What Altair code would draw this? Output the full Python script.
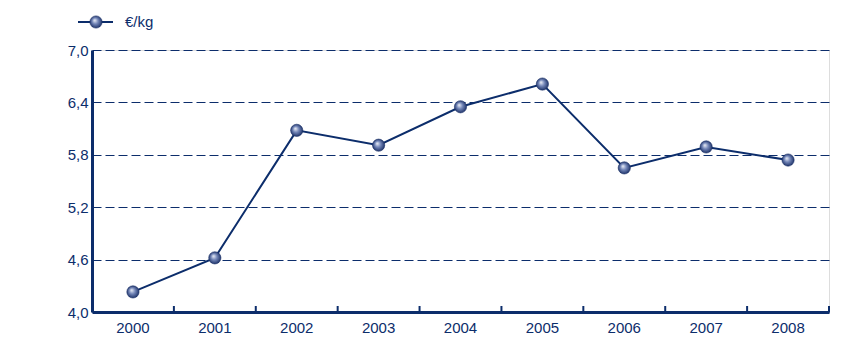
import altair as alt
import pandas as pd

years = ["2000", "2001", "2002", "2003", "2004", "2005", "2006", "2007", "2008"]
values = [4.23, 4.62, 6.08, 5.91, 6.35, 6.61, 5.65, 5.89, 5.74]
y_ticks = [4.0, 4.6, 5.2, 5.8, 6.4, 7.0]
series_label = ["€/kg"]

NAVY = "#0c2d6b"
FONT = "Liberation Sans"

df = pd.DataFrame({"year": years, "value": values})
leg = pd.DataFrame({"label": series_label})

sphere = alt.RadialGradient(
    gradient="radial",
    x1=0.38, y1=0.35, r1=0.0,
    x2=0.5, y2=0.5, r2=0.55,
    stops=[
        alt.GradientStop(offset=0.0, color="#f2f4fa"),
        alt.GradientStop(offset=0.45, color="#7386b8"),
        alt.GradientStop(offset=1.0, color="#14295f"),
    ],
)

xscale = alt.Scale(type="band", paddingInner=0, paddingOuter=0)
yscale = alt.Scale(domain=[4.0, 7.0], nice=False, zero=False)

x_enc = alt.X(
    "year:O", scale=xscale, sort=years,
    axis=alt.Axis(
        title=None, labelAngle=0, ticks=False, grid=False,
        domainColor=NAVY, domainWidth=3, labelColor=NAVY,
        labelFont=FONT, labelFontSize=15, labelPadding=8,
    ),
)
y_enc = alt.Y(
    "value:Q", scale=yscale,
    axis=alt.Axis(
        title=None, values=y_ticks, ticks=False,
        labelExpr="replace(format(datum.value, '.1f'), '.', ',')",
        grid=True, gridColor=NAVY, gridDash=[9, 4], gridWidth=1,
        domainColor=NAVY, domainWidth=3, labelColor=NAVY,
        labelFont=FONT, labelFontSize=15, labelPadding=4,
    ),
)

base = alt.Chart(df)

line = base.mark_line(color=NAVY, strokeWidth=2).encode(x=x_enc, y=y_enc)
points = base.mark_point(
    filled=True, fill=sphere, size=150, stroke="#1a2f66", strokeWidth=0.6, opacity=1
).encode(x=alt.X("year:O", sort=years), y="value:Q")

ticks = base.mark_rule(color=NAVY, strokeWidth=2).encode(
    x=alt.X("year:O", sort=years, bandPosition=0),
    y=alt.value(262), y2=alt.value(256),
)
last_tick = base.mark_rule(color=NAVY, strokeWidth=2).encode(
    x=alt.X("year:O", sort=years, bandPosition=1),
    y=alt.value(262), y2=alt.value(256),
).transform_filter(alt.datum.year == years[-1])

leg_line = alt.Chart(leg).mark_rule(color=NAVY, strokeWidth=2).encode(
    x=alt.value(-14), x2=alt.value(21), y=alt.value(-28)
)
leg_point = alt.Chart(leg).mark_point(
    filled=True, fill=sphere, size=150, stroke="#1a2f66", strokeWidth=0.6, opacity=1
).encode(x=alt.value(4), y=alt.value(-28))
leg_text = alt.Chart(leg).mark_text(
    align="left", baseline="middle", font=FONT, fontSize=15, color=NAVY
).encode(x=alt.value(33), y=alt.value(-28), text="label:N")

chart = alt.layer(
    line, ticks, last_tick, points, leg_line, leg_point, leg_text
).properties(
    width=737, height=262,
    autosize=alt.AutoSizeParams(type="none"),
    padding={"left": 92, "top": 50, "right": 28, "bottom": 43},
).configure_view(stroke=None).configure(background="white")

chart.save("out.html", embed_options={"renderer": "svg", "actions": False})
